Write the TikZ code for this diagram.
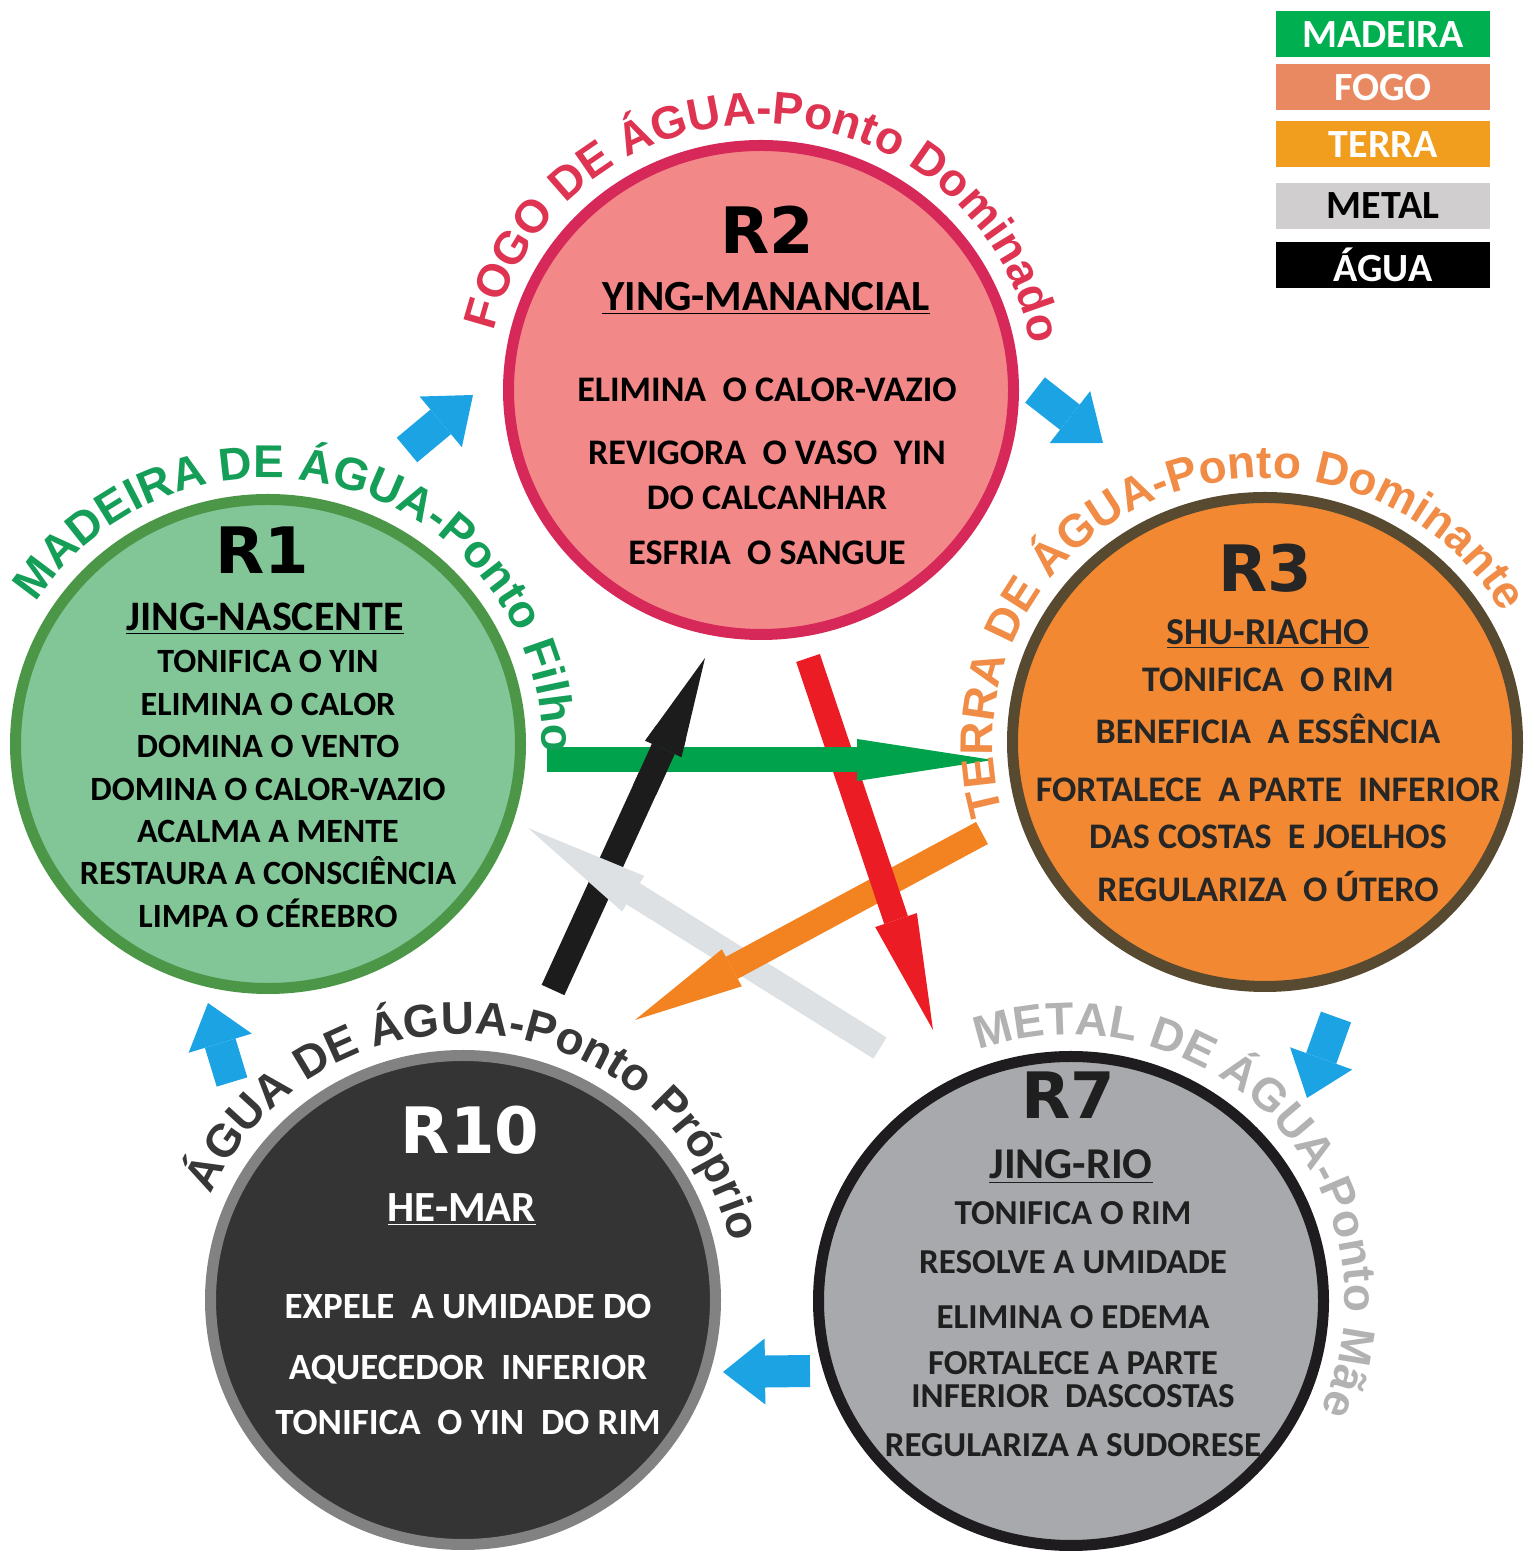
\documentclass[tikz,border=0pt]{standalone}
\usepackage{fontspec}
\setmainfont{Carlito}
\newfontfamily\titlefont{DejaVu Sans}
\newfontfamily\arcfont{Liberation Sans}
\usepackage{xcolor}
\usepackage{tikz}
\usetikzlibrary{positioning,arrows.meta,shapes.geometric,decorations.text}
\definecolor{woodfill}{RGB}{130,198,152}
\definecolor{woodline}{RGB}{76,150,72}
\definecolor{woodtxt}{RGB}{20,158,88}
\definecolor{firefill}{RGB}{242,137,136}
\definecolor{fireline}{RGB}{215,40,90}
\definecolor{firetxt}{RGB}{222,52,82}
\definecolor{earthfill}{RGB}{242,137,50}
\definecolor{earthline}{RGB}{88,74,48}
\definecolor{earthtxt}{RGB}{240,140,70}
\definecolor{metalfill}{RGB}{167,169,172}
\definecolor{metalline}{RGB}{30,28,30}
\definecolor{metaltxt}{RGB}{178,178,178}
\definecolor{waterfill}{RGB}{52,52,52}
\definecolor{waterline}{RGB}{130,130,130}
\definecolor{watertxt}{RGB}{55,55,55}
\definecolor{sgreen}{RGB}{0,163,75}
\definecolor{sred}{RGB}{236,28,36}
\definecolor{sorange}{RGB}{242,131,32}
\definecolor{swhite}{RGB}{222,225,228}
\definecolor{sblack}{RGB}{28,28,28}
\definecolor{cyanarr}{RGB}{28,163,228}
\definecolor{lmadeira}{RGB}{0,176,80}
\definecolor{lfogo}{RGB}{233,137,98}
\definecolor{lterra}{RGB}{241,158,31}
\definecolor{lmetal}{RGB}{208,206,207}

\begin{document}
\begin{tikzpicture}[x=0.5pt, y=0.5pt,
  ring/.style={ellipse, minimum width=252.5pt, minimum height=244.5pt, line width=5.5pt, inner sep=0pt},
  circtitle/.style={font=\titlefont\bfseries\fontsize{32}{32}\selectfont, inner sep=0pt},
  circsub/.style={anchor=base, inner sep=0pt},
  circbody/.style={align=center, inner sep=0pt},
  arctxt/.style 2 args={decorate, decoration={text along path, text align=center,
      text={|\arcfont\bfseries\fontsize{23}{23}\selectfont\color{#1}|#2}}},
  starr/.style={line width=12.5pt},
  bluearr/.style={draw=cyanarr, line width=16pt, -{Triangle[length=21pt, width=33pt, line width=0pt]}},
  lgd/.style={minimum width=107pt, minimum height=23pt, inner sep=0pt,
      font=\bfseries\fontsize{20}{20}\selectfont}
]
\useasboundingbox (0,0) rectangle (1533,1559);

\node[ring, fill=woodfill, draw=woodline] (R1) at (268,815) {};
\node[ring, fill=firefill, draw=fireline] (R2) at (761,1169) {};
\node[ring, fill=earthfill, draw=earthline] (R3) at (1265,817) {};
\node[ring, fill=metalfill, draw=metalline] (R7) at (1071,258) {};
\node[ring, fill=waterfill, draw=waterline] (R10) at (463,259) {};

\node[circtitle] (t1) at ([shift={(-6,194)}]R1.center) {R1};
\node[circsub, font=\bfseries\fontsize{21}{21}\selectfont] (s1) at ([shift={(-3,113.5)}]R1.center) {\underline{JING-NASCENTE}};
\node[circbody, font=\bfseries\fontsize{17}{21.2}\selectfont] (b1) at ([shift={(0,-45)}]R1.center)
  {TONIFICA O YIN\\ELIMINA O CALOR\\DOMINA O VENTO\\DOMINA O CALOR-VAZIO\\ACALMA A MENTE\\RESTAURA A CONSCIÊNCIA\\LIMPA O CÉREBRO};

\node[circtitle] (t2) at ([shift={(6,160)}]R2.center) {R2};
\node[circsub, font=\bfseries\fontsize{21.5}{21.5}\selectfont] (s2) at ([shift={(5,79.5)}]R2.center) {\underline{YING-MANANCIAL}};
\node[circbody, font=\bfseries\fontsize{18}{22.5}\selectfont] (b2) at ([shift={(6,-81.5)}]R2.center)
  {ELIMINA~ O CALOR-VAZIO\\[9pt]REVIGORA~ O VASO~ YIN\\DO CALCANHAR\\[5pt]ESFRIA~ O SANGUE};

\node[circtitle, text=black!85] (t3) at ([shift={(0,174)}]R3.center) {R3};
\node[circsub, text=black!85, font=\bfseries\fontsize{19}{19}\selectfont] (s3) at ([shift={(3,97.8)}]R3.center) {\underline{SHU-RIACHO}};
\node[circbody, text=black!85, font=\bfseries\fontsize{18}{26}\selectfont] (b3) at ([shift={(3,-43)}]R3.center)
  {TONIFICA~ O RIM\\BENEFICIA~ A ESSÊNCIA\\[3pt]FORTALECE~ A PARTE~ INFERIOR\\[-2.5pt]DAS COSTAS~ E JOELHOS\\[0.5pt]REGULARIZA~ O ÚTERO};

\node[circtitle, text=black!88] (t7) at ([shift={(-3,206)}]R7.center) {R7};
\node[circsub, text=black!88, font=\bfseries\fontsize{22}{22}\selectfont] (s7) at ([shift={(0,122)}]R7.center) {\underline{JING-RIO}};
\node[circbody, text=black!88, font=\bfseries\fontsize{17.5}{23}\selectfont] (b7) at ([shift={(2,-28)}]R7.center)
  {TONIFICA O RIM\\[1.5pt]RESOLVE A UMIDADE\\[4.5pt]ELIMINA O EDEMA\\FORTALECE A PARTE\\[-6.5pt]INFERIOR~ DASCOSTAS\\[1.5pt]REGULARIZA A SUDORESE};

\node[circtitle, text=white] (t10) at ([shift={(7,170)}]R10.center) {R10};
\node[circsub, text=white, font=\bfseries\fontsize{21.5}{21.5}\selectfont] (s10) at ([shift={(-1,78)}]R10.center) {\underline{HE-MAR}};
\node[circbody, text=white, font=\bfseries\fontsize{18.5}{27.5}\selectfont] (b10) at ([shift={(5,-64)}]R10.center)
  {EXPELE~ A UMIDADE DO\\[3pt]AQUECEDOR~ INFERIOR\\TONIFICA~ O YIN~ DO RIM};

\draw[starr, sblack, -{Triangle[length=50pt, width=20pt, line width=0pt]}] ([shift={(90,310)}]R10.center) -- ([shift={(-56,-268)}]R2.center);
\draw[starr, swhite, -{Triangle[length=62pt, width=21pt, line width=0pt]}] ([shift={(-191,253)}]R7.center) -- ([shift={(260,-84)}]R1.center);
\draw[starr, sorange, -{Triangle[length=55pt, width=21pt, line width=0pt]}] ([shift={(-283,-91)}]R3.center) -- ([shift={(172,280)}]R10.center);
\draw[starr, sred, -{Triangle[length=58pt, width=22pt, line width=0pt]}] ([shift={(47,-268)}]R2.center) -- ([shift={(-138,271)}]R7.center);
\draw[starr, sgreen, -{Triangle[length=68pt, width=21pt, line width=0pt]}] ([shift={(279,-16)}]R1.center) -- ([shift={(-272,-18)}]R3.center);
\begin{scope}
  \clip ([shift={(390,-16)}]R1.center) circle[radius=35];
  \draw[starr, sblack, -{Triangle[length=50pt, width=20pt, line width=0pt]}] ([shift={(90,310)}]R10.center) -- ([shift={(-56,-268)}]R2.center);
\end{scope}

\draw[bluearr] ([shift={(139,294)}]R1.center) -- ([shift={(-288,-5)}]R2.center);
\draw[bluearr] ([shift={(274,0)}]R2.center) -- ([shift={(-162,299)}]R3.center);
\draw[bluearr] ([shift={(71,-275)}]R3.center) -- ([shift={(236,203)}]R7.center);
\draw[bluearr] ([shift={(-261,-70)}]R7.center) -- ([shift={(260,-72)}]R10.center);
\draw[bluearr] ([shift={(-231,218)}]R10.center) -- ([shift={(-60,-259)}]R1.center);

\path[arctxt={woodtxt}{MADEIRA DE ÁGUA-Ponto Filho}] ([shift={(173:274 and 266)}]R1.center) arc[start angle=173, end angle=-27, x radius=274, y radius=266];
\path[arctxt={firetxt}{FOGO DE ÁGUA-Ponto Dominado}] ([shift={(188.5:274 and 266)}]R2.center) arc[start angle=188.5, end angle=-11.5, x radius=274, y radius=266];
\path[arctxt={earthtxt}{TERRA DE ÁGUA-Ponto Dominante}] ([shift={(212.5:272 and 264)}]R3.center) arc[start angle=212.5, end angle=12.5, x radius=272, y radius=264];
\path[arctxt={metaltxt}{METAL DE ÁGUA-Ponto Mãe}] ([shift={(142.5:274 and 266)}]R7.center) arc[start angle=142.5, end angle=-57.5, x radius=274, y radius=266];
\path[arctxt={watertxt}{ÁGUA DE ÁGUA-Ponto Próprio}] ([shift={(184.5:274 and 266)}]R10.center) arc[start angle=184.5, end angle=-15.5, x radius=274, y radius=266];

\node[lgd, fill=lmadeira, text=white] (lmad) at (1383,1524.5) {MADEIRA};
\node[lgd, fill=lfogo, text=white, below=3pt of lmad] (lfog) {FOGO};
\node[lgd, fill=lterra, text=white, below=5pt of lfog] (lter) {TERRA};
\node[lgd, fill=lmetal, text=black, below=7.5pt of lter] (lmet) {METAL};
\node[lgd, fill=black, text=white, below=6pt of lmet] (lagu) {ÁGUA};
\end{tikzpicture}
\end{document}
